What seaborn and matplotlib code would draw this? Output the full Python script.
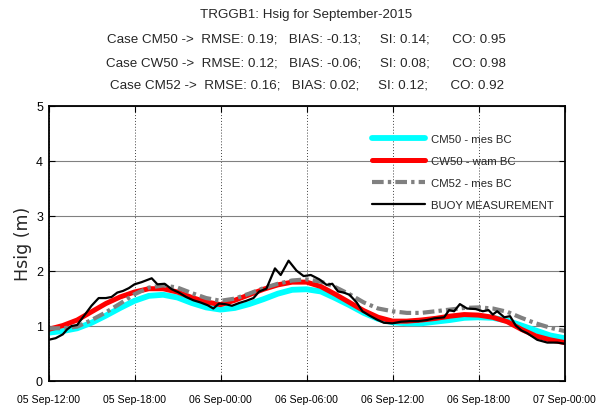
import numpy as np
import pandas as pd
import matplotlib
matplotlib.use("Agg")
import matplotlib.pyplot as plt
import matplotlib.dates as mdates
from matplotlib import font_manager
import seaborn as sns

# ---------------- data ----------------
start_time = "2015-09-05 12:00"
model_hours = list(range(37))
cm50_mes = [0.87, 0.90, 0.95, 1.05, 1.18, 1.32, 1.45, 1.54, 1.56, 1.51, 1.41, 1.33, 1.29,
            1.32, 1.39, 1.48, 1.58, 1.65, 1.66, 1.62, 1.50, 1.37, 1.23, 1.12, 1.06,
            1.04, 1.04, 1.07, 1.10, 1.14, 1.15, 1.14, 1.09, 1.00, 0.91, 0.82, 0.77]
cw50_wam = [0.93, 1.00, 1.10, 1.25, 1.40, 1.52, 1.61, 1.67, 1.67, 1.61, 1.51, 1.43, 1.38,
            1.46, 1.56, 1.66, 1.74, 1.79, 1.79, 1.71, 1.57, 1.42, 1.27, 1.15, 1.08,
            1.08, 1.10, 1.13, 1.17, 1.20, 1.19, 1.15, 1.07, 0.93, 0.81, 0.74, 0.69]
cm52_mes = [0.95, 0.95, 0.98, 1.10, 1.24, 1.40, 1.57, 1.69, 1.73, 1.69, 1.59, 1.50, 1.45,
            1.49, 1.58, 1.68, 1.76, 1.82, 1.84, 1.80, 1.70, 1.57, 1.42, 1.31, 1.26,
            1.23, 1.23, 1.26, 1.29, 1.32, 1.33, 1.31, 1.25, 1.14, 1.04, 0.96, 0.90]
buoy_hours = [0, 0.5, 1.0, 1.3, 1.6, 2.0, 2.4, 3.0, 3.5, 4.0, 4.4, 4.8, 5.2, 5.6, 6.0, 6.5,
              7.2, 7.6, 8.1, 8.6, 9.1, 9.6, 10.1, 10.6, 11.1, 11.5, 11.9, 12.3, 12.8, 13.3,
              13.8, 14.3, 14.7, 15.2, 15.8, 16.2, 16.75, 17.3, 17.8, 18.3, 18.9, 19.4, 19.8,
              20.2, 20.6, 21.0, 21.5, 21.9, 22.4, 22.9, 23.4, 24.0, 24.6, 25.2, 25.8, 26.4,
              26.9, 27.6, 27.95, 28.3, 28.7, 29.2, 29.8, 30.3, 30.7, 31.0, 31.3, 31.8, 32.2,
              32.6, 33.0, 33.4, 34.1, 34.8, 35.5, 36.0]
buoy_hsig = [0.74, 0.77, 0.84, 0.93, 0.99, 1.01, 1.15, 1.36, 1.50, 1.50, 1.52, 1.60, 1.63, 1.68,
             1.75, 1.79, 1.86, 1.75, 1.76, 1.66, 1.60, 1.52, 1.46, 1.42, 1.37, 1.31, 1.40,
             1.39, 1.36, 1.41, 1.45, 1.50, 1.62, 1.67, 2.04, 1.92, 2.18, 2.00, 1.90, 1.92,
             1.84, 1.74, 1.76, 1.62, 1.60, 1.56, 1.42, 1.26, 1.18, 1.11, 1.05, 1.04, 1.07,
             1.08, 1.08, 1.10, 1.13, 1.15, 1.28, 1.26, 1.39, 1.31, 1.30, 1.26, 1.28, 1.20,
             1.26, 1.15, 1.17, 1.00, 0.91, 0.86, 0.74, 0.69, 0.69, 0.67]
tick_hours = [0, 6, 12, 18, 24, 30, 36]
y_ticks = [0, 1, 2, 3, 4, 5]
series_labels = ["CM50 - mes BC", "CW50 - wam BC", "CM52 - mes BC", "BUOY MEASUREMENT"]
title_lines = [
    "TRGGB1: Hsig for September-2015",
    "Case CM50 ->  RMSE: 0.19;   BIAS: -0.13;     SI: 0.14;      CO: 0.95",
    "Case CW50 ->  RMSE: 0.12;   BIAS: -0.06;     SI: 0.08;      CO: 0.98",
    "Case CM52 ->  RMSE: 0.16;   BIAS: 0.02;     SI: 0.12;      CO: 0.92",
]
y_label = "Hsig (m)"

# ---------------- style ----------------
sns.set_theme(style="white")
names = {f.name for f in font_manager.fontManager.ttflist}
narrow = "Liberation Sans Narrow" if "Liberation Sans Narrow" in names else "Liberation Sans"
plt.rcParams["font.family"] = [narrow, "DejaVu Sans"]

t0 = pd.Timestamp(start_time)
model_df = pd.DataFrame({
    "time": t0 + pd.to_timedelta(model_hours, unit="h"),
    "cm50": cm50_mes, "cw50": cw50_wam, "cm52": cm52_mes,
})
buoy_df = pd.DataFrame({"time": t0 + pd.to_timedelta(buoy_hours, unit="h"), "hsig": buoy_hsig})

fig = plt.figure(figsize=(6.02, 4.14), dpi=100)
W, H = 602, 414
L, R, T, B = 48.5, 564.5, 106.7, 381.5
ax = fig.add_axes([L / W, 1 - B / H, (R - L) / W, (B - T) / H])

sns.lineplot(data=model_df, x="time", y="cm50", ax=ax, color="#00FFFF", linewidth=4.2,
             label=series_labels[0], estimator=None, sort=False)
sns.lineplot(data=model_df, x="time", y="cw50", ax=ax, color="#FF0000", linewidth=3.6,
             label=series_labels[1], estimator=None, sort=False)
sns.lineplot(data=model_df, x="time", y="cm52", ax=ax, color="#808080", linewidth=3.0,
             linestyle=(0, (2.8, 1.0, 0.8, 1.0)), label=series_labels[2], estimator=None, sort=False)
sns.lineplot(data=buoy_df, x="time", y="hsig", ax=ax, color="black", linewidth=1.6,
             label=series_labels[3], estimator=None, sort=False)

ax.set_xlim(t0, t0 + pd.Timedelta(hours=36))
ax.set_ylim(0, 5)
ax.set_xticks(list(t0 + pd.to_timedelta(tick_hours, unit="h")))
ax.xaxis.set_major_formatter(mdates.DateFormatter("%d %b-%H:%M"))
ax.set_yticks(y_ticks)

ax.set_axisbelow(True)
ax.yaxis.grid(True, color="#808080", linestyle="-", linewidth=0.8)
ax.xaxis.grid(True, color="#404040", linestyle=(0, (1, 2)), linewidth=0.7)
for s in ax.spines.values():
    s.set_color("black")
    s.set_linewidth(1.3)
ax.tick_params(axis="both", which="both", direction="in", length=4, width=0.8,
               top=True, right=True, bottom=True, left=True, colors="black",
               labelcolor="black")
ax.tick_params(axis="x", pad=10, labelsize=7.6)
ax.tick_params(axis="y", pad=4, labelsize=9)

ax.set_xlabel("")
ax.set_ylabel(y_label, family=["DejaVu Sans"], fontsize=12.5, labelpad=3)

leg = ax.legend(loc="upper left", bbox_to_anchor=(372 / W, 1 - 135 / H),
                bbox_transform=fig.transFigure, frameon=False, fontsize=8.2,
                handlelength=4.65, handletextpad=0.53, labelspacing=1.05,
                borderpad=0, borderaxespad=0)

title_y = [15, 40, 63, 85]
for line, yc in zip(title_lines, title_y):
    fig.text(306.5 / W, 1 - yc / H, line, ha="center", va="center", fontsize=9.6)

fig.savefig("out.png", dpi=100)
